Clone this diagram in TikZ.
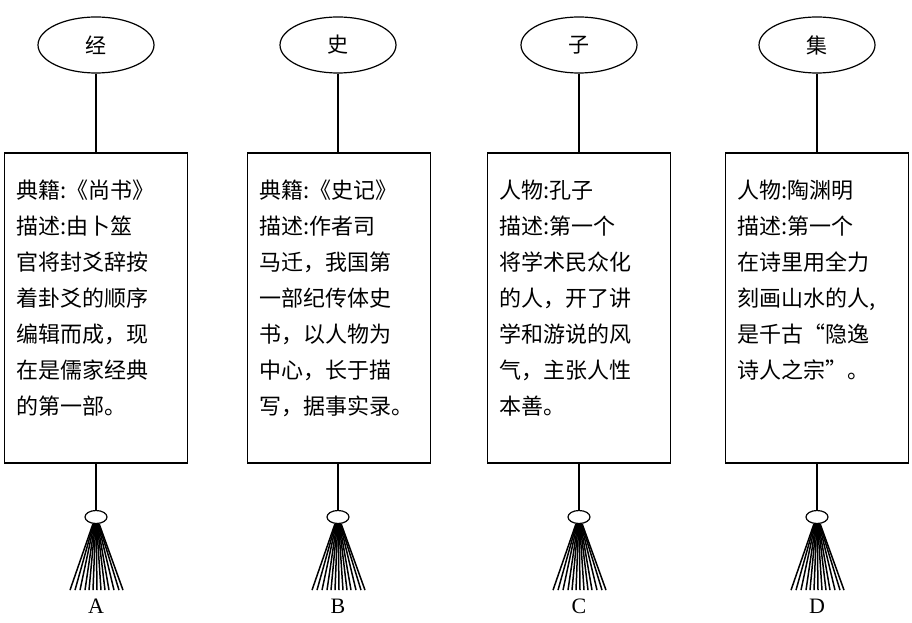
\documentclass[tikz,border=0pt]{standalone}
\usepackage{fontspec}
\setmainfont{Liberation Serif}
\newfontfamily\cjk{Noto Sans CJK SC}
\begin{document}
\begin{tikzpicture}[x=1pt,y=-1pt,
  oval/.style={draw,line width=1.2pt,ellipse,minimum width=116pt,minimum height=56pt,inner sep=0pt,font=\cjk\fontsize{21}{21}\selectfont},
  card/.style={draw,line width=1.2pt,minimum width=183pt,minimum height=310pt,inner sep=0pt},
  txt/.style={anchor=north west,align=left,inner sep=0pt,font=\cjk\fontsize{22}{36}\selectfont},
  ring/.style={draw,line width=1.2pt,ellipse,minimum width=22pt,minimum height=13pt,inner sep=0pt},
  lab/.style={font=\fontsize{22}{22}\selectfont},
  ln/.style={line width=1.2pt}]
\useasboundingbox (0,0) rectangle (912,623);
\newcommand{\panel}[5]{%
  \node[oval] (e#1) at (#2,45) {#3};
  \node[card] (b#1) at (#2+#5,308) {};
  \node[txt] (t#1) at (#2+#5-80,180) {#4};
  \node[ring] (r#1) at (#2,517) {};
  \node[lab] (l#1) at (#2,606) {#1};
  \draw[ln] (e#1.south) -- (b#1.north -| e#1.south);
  \draw[ln] (b#1.south -| r#1.north) -- (r#1.north);
  \foreach \k in {-26,-21,-16,-11,-7,-3,1,5,9,13,18,23,27}
    \draw[line width=1.5pt] ($(r#1.south)+(\k*0.12,0)$) -- ($(r#1.south)+(\k,66)$);
}
\usetikzlibrary{calc,shapes.geometric}
\panel{A}{96}{经}{典籍:《尚书》\\描述:由卜筮\\官将封爻辞按\\着卦爻的顺序\\编辑而成，现\\在是儒家经典\\的第一部。}{0}
\panel{B}{338}{史}{典籍:《史记》\\描述:作者司\\马迁，我国第\\一部纪传体史\\书，以人物为\\中心，长于描\\写，据事实录。}{1}
\panel{C}{579}{子}{人物:孔子\\描述:第一个\\将学术民众化\\的人，开了讲\\学和游说的风\\气，主张人性\\本善。}{0}
\panel{D}{817}{集}{人物:陶渊明\\描述:第一个\\在诗里用全力\\刻画山水的人,\\是千古“隐逸\\诗人之宗”。}{0}
\end{tikzpicture}
\end{document}
